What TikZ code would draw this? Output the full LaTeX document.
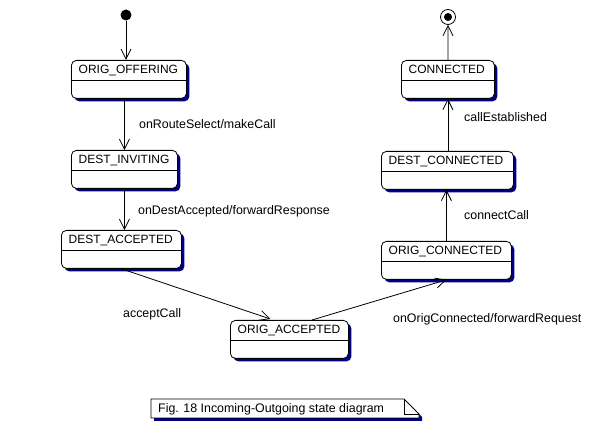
\documentclass[tikz,border=0pt]{standalone}
\usepackage{fontspec}
\setmainfont{Liberation Sans}
\usetikzlibrary{arrows.meta,calc,shadows}
\definecolor{shadowblue}{RGB}{0,0,128}
\tikzset{
  state/.style={draw=black, fill=white, rounded corners=5pt, anchor=north west,
    minimum height=38pt, inner sep=0pt, line width=0.8pt,
    drop shadow={shadow xshift=3pt, shadow yshift=-3pt, fill=shadowblue, opacity=1}},
  stext/.style={anchor=base west, inner sep=0pt, font=\fontsize{12}{14}\selectfont},
  elabel/.style={anchor=base west, inner sep=0pt, font=\fontsize{12.4}{14}\selectfont},
  arr/.style={draw=black, line width=0.8pt, -{Straight Barb[length=10pt,width=10pt,line width=0.8pt]}},
}
\newcommand\umlstate[5]{%
  \node[state, minimum width=#4pt] (#1) at (#2,#3) {};
  \draw[line width=0.8pt] ($(#1.north west)+(0,20)$) -- ($(#1.north east)+(0,20)$);
  \node[stext] (#1t) at ($(#1.north west)+(7.5,13.5)$) {#5};
}
\begin{document}
\begin{tikzpicture}[x=1pt,y=-1pt]
\useasboundingbox[fill=white] (0,0) rectangle (595,427);

% states
\umlstate{oo}{71}{60}{115}{ORIG\_OFFERING}
\umlstate{di}{71}{150}{106}{DEST\_INVITING}
\umlstate{da}{61}{230}{120}{DEST\_ACCEPTED}
\umlstate{oa}{230}{320}{118}{ORIG\_ACCEPTED}
\umlstate{oc}{381}{241}{130}{ORIG\_CONNECTED}
\umlstate{dc}{381}{151}{132}{DEST\_CONNECTED}
\umlstate{cn}{401}{60}{93}{CONNECTED}

% initial and final pseudo states
\node[circle, fill=black, inner sep=0pt, minimum size=11pt] (init) at (126,15) {};
\node[circle, draw=black, fill=white, line width=0.8pt, inner sep=0pt, minimum size=15pt] (fin) at (448,17) {};
\node[circle, fill=black, inner sep=0pt, minimum size=8pt] (finin) at (448,17) {};

% transitions
\draw[arr] (init) -- (init |- oo.north);
\draw[arr] (oo.south -| di.north) -- (di.north);
\draw[arr] (di.south) -- (di.south |- da.north);
\draw[arr] (da.south) -- ($(oa.north west)!0.34!(oa.north east)+(0,-1)$);
\draw[arr] ($(oa.north west)!0.69!(oa.north east)$) -- (oc.south);
\draw[arr] (oc.north) -- (oc.north |- dc.south);
\draw[arr] (dc.north -| cn.south) -- (cn.south);
\draw[arr] (cn.north) -- (fin.south);

% transition labels
\node[elabel] (l1) at (139,129) {onRouteSelect/makeCall};
\node[elabel] (l2) at (138,215) {onDestAccepted/forwardResponse};
\node[elabel] (l3) at (123,318) {acceptCall};
\node[elabel] (l4) at (393,323) {onOrigConnected/forwardRequest};
\node[elabel] (l5) at (464,220) {connectCall};
\node[elabel] (l6) at (464,122) {callEstablished};

% caption note
\coordinate (nw) at (151,399);
\coordinate (se) at (419,418);
\fill[shadowblue] (154,402) -- (407,402) -- (422,417) -- (422,421) -- (154,421) -- cycle;
\draw[fill=white, line width=0.8pt] (nw) -- (404,399) -- (419,414) -- (se) -- (151,418) -- cycle;
\draw[line width=0.8pt] (404,399) -- (404,414) -- (419,414);
\node[elabel] (cap) at (158,413) {Fig. 18 Incoming-Outgoing state diagram};
\end{tikzpicture}
\end{document}
